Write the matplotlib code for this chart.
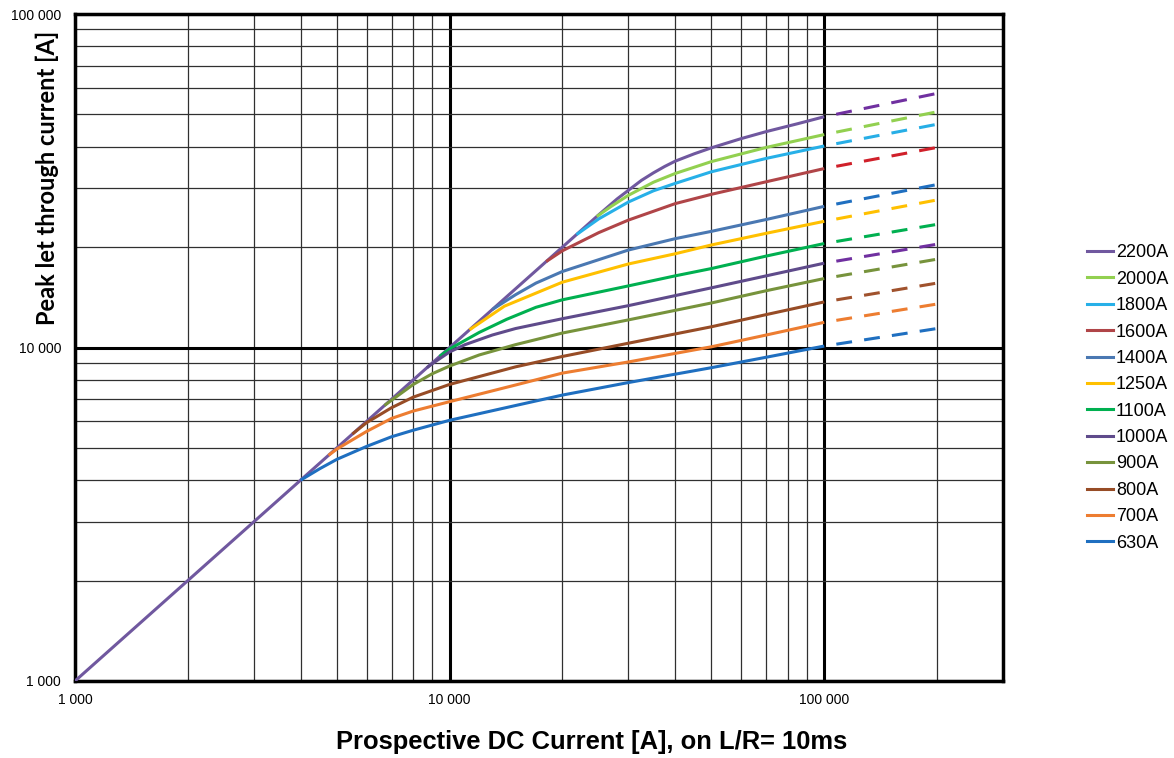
import matplotlib
matplotlib.use("Agg")
import matplotlib.pyplot as plt
from matplotlib.ticker import FixedLocator, LogLocator, NullFormatter, FuncFormatter
from matplotlib.lines import Line2D

# fuse ratings, top to bottom in the legend
labels = ["2200A", "2000A", "1800A", "1600A", "1400A", "1250A",
          "1100A", "1000A", "900A", "800A", "700A", "630A"]

# solid part of each curve (prospective current -> peak let-through)
x_2200 = [1000, 4000, 10000, 20000, 25000, 28000, 30000, 32500, 35000, 37500, 40000,
          45000, 50000, 60000, 70000, 85000, 100000]
y_2200 = [1000, 4000, 10000, 20000, 25000, 27900, 29600, 31700, 33400, 34900, 36200,
          38100, 39700, 42300, 44400, 46900, 49200]

x_2000 = [24700, 27000, 30000, 35000, 40000, 50000, 70000, 100000]
y_2000 = [24700, 26500, 28600, 31300, 33250, 36100, 39800, 43500]

x_1800 = [21800, 25000, 30000, 35000, 40000, 50000, 70000, 100000]
y_1800 = [21800, 24300, 27300, 29500, 31050, 33650, 36900, 40200]

x_1600 = [18100, 20000, 25000, 30000, 40000, 50000, 70000, 100000]
y_1600 = [18100, 19500, 22100, 24100, 27000, 28800, 31400, 34400]

x_1400 = [13000, 15000, 17000, 20000, 30000, 40000, 50000, 70000, 100000]
y_1400 = [13000, 14400, 15600, 16900, 19600, 21200, 22300, 24200, 26500]

x_1250 = [11300, 14000, 20000, 30000, 40000, 50000, 70000, 100000]
y_1250 = [11300, 13300, 15700, 17800, 19100, 20300, 22000, 23900]

x_1100 = [9400, 10000, 12000, 14200, 17000, 20000, 30000, 40000, 50000, 70000, 100000]
y_1100 = [9400, 9900, 11100, 12150, 13200, 13900, 15300, 16400, 17250, 18800, 20500]

x_1000 = [8700, 9000, 10000, 11000, 13000, 15000, 20000, 30000, 50000, 70000, 100000]
y_1000 = [8700, 8950, 9700, 10200, 10900, 11400, 12200, 13350, 15100, 16400, 17900]

x_900 = [6700, 7000, 8000, 9000, 10000, 12000, 15000, 20000, 30000, 50000, 70000, 100000]
y_900 = [6700, 6950, 7750, 8350, 8800, 9500, 10200, 11050, 12100, 13600, 14800, 16100]

x_800 = [5500, 6000, 7000, 8000, 10000, 15000, 20000, 30000, 50000, 70000, 100000]
y_800 = [5500, 5950, 6600, 7100, 7750, 8750, 9400, 10300, 11540, 12550, 13700]

x_700 = [4750, 5000, 6000, 7000, 8000, 10000, 15000, 20000, 30000, 50000, 70000, 100000]
y_700 = [4750, 4960, 5600, 6130, 6450, 6880, 7720, 8380, 9050, 10050, 10900, 11900]

x_630 = [4000, 4500, 5000, 6000, 7000, 8000, 10000, 15000, 20000, 30000, 50000, 70000, 100000]
y_630 = [4000, 4330, 4620, 5050, 5400, 5650, 6050, 6700, 7200, 7850, 8700, 9350, 10100]

# dashed extrapolation from 100 kA to 200 kA
x_ext = [100000, 200000]
y_ext_end = [57800, 50900, 46700, 39800, 30800, 27700, 23400, 20400, 18400, 15600, 13500, 11400]

xs = [x_2200, x_2000, x_1800, x_1600, x_1400, x_1250, x_1100, x_1000, x_900, x_800, x_700, x_630]
ys = [y_2200, y_2000, y_1800, y_1600, y_1400, y_1250, y_1100, y_1000, y_900, y_800, y_700, y_630]

solid_colors = ["#70589f", "#92d050", "#27b0e8", "#b04548", "#4a78b2", "#ffc000",
                "#00b050", "#5f4b8b", "#77933c", "#974c26", "#ed7d31", "#1f6fc0"]
dash_colors = ["#7030a0", "#92d050", "#27aee6", "#d0202a", "#1f6fc0", "#ffc000",
               "#00b050", "#7030a0", "#77933c", "#a0522d", "#ed7d31", "#1f6fc0"]

plt.rcParams['font.family'] = ['Liberation Sans', 'DejaVu Sans']

fig = plt.figure(figsize=(11.74, 7.58), dpi=100)
ax = fig.add_axes([75 / 1174, 77 / 758, 928 / 1174, 667 / 758])
ax.set_xscale('log')
ax.set_yscale('log')
ax.set_xlim(1000, 300000)
ax.set_ylim(1000, 100000)

lw = 2.2
for i in range(len(labels)):
    ax.plot(xs[i], ys[i], color=solid_colors[i], lw=lw, solid_capstyle='butt',
            solid_joinstyle='round', zorder=3)
    ax.plot(x_ext, [ys[i][-1], y_ext_end[i]], color=dash_colors[i], lw=lw,
            linestyle=(5.2, (5.2, 4.0)), dash_capstyle='butt', zorder=3)

# grid and ticks
major = [1000, 10000, 100000]
for axis in (ax.xaxis, ax.yaxis):
    axis.set_major_locator(FixedLocator(major))
    axis.set_minor_locator(LogLocator(base=10, subs=range(2, 10)))
    axis.set_minor_formatter(NullFormatter())
    axis.set_major_formatter(FuncFormatter(lambda v, p: f"{int(round(v)):,}".replace(",", " ")))
ax.grid(which='major', color='black', lw=2.2)
ax.grid(which='minor', color='#303030', lw=0.9)
ax.set_axisbelow(True)
ax.tick_params(which='both', length=0, labelsize=10)
ax.tick_params(axis='x', pad=9)
ax.tick_params(axis='y', pad=10)
for s in ax.spines.values():
    s.set_linewidth(2.5)
    s.set_color('black')

fig.text(592 / 1174, 1 - 749 / 758, "Prospective DC Current [A], on L/R= 10ms",
         ha='center', va='baseline', fontsize=18.4, fontweight='bold')
fig.text(47 / 1174, 1 - 178 / 758, "Peak let through current [A]", rotation=90,
         ha='center', va='center', fontsize=17, fontweight='bold', family=['Lato', 'DejaVu Sans'])

handles = [Line2D([0], [0], color=c, lw=lw) for c in solid_colors]
fig.legend(handles, labels, loc='center left', bbox_to_anchor=(1087 / 1174, 1 - 398 / 758),
           frameon=False, fontsize=13, handlelength=1.45, handletextpad=0.15,
           labelspacing=0.52, borderpad=0, borderaxespad=0)

fig.savefig("out.png", dpi=100)
